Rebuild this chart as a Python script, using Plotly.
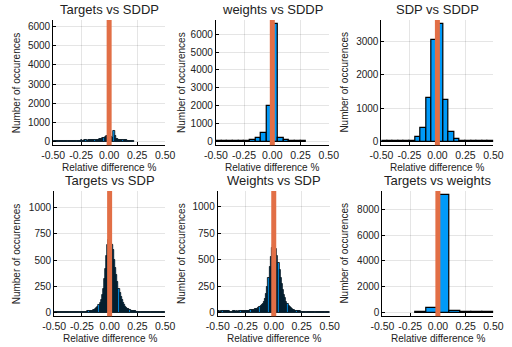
import numpy as np
import plotly.graph_objects as go

BLUE = "#009af9"
ORANGE = "#e26f46"
FONT = "Liberation Sans"
TXT = "#222222"

titles = ["Targets vs SDDP", "weights vs SDDP", "SDP vs SDDP",
          "Targets vs SDP", "Weights vs SDP", "Targets vs weights"]
xlabel = "Relative difference %"
ylabel = "Number of occurences"

# ---- histogram data: first bin edge, bin width, counts ----
p1_start, p1_width = -0.50, 0.01
p1_counts = [55, 60, 52, 58, 62, 50, 57, 61, 54, 59, 63, 52, 56, 60, 58, 53, 62, 57, 55, 60,
             64, 58, 61, 56, 59, 66, 62, 60, 65, 68, 63, 70, 72, 68, 75, 78, 82, 88, 95, 105,
             115, 128, 140, 160, 185, 210, 240, 280, 320, 380,
             6170,
             300, 240, 200, 560, 300, 150, 120, 100, 90, 85, 80, 75, 70, 68, 65, 62, 60, 55, 52, 50, 45]

p2_start, p2_width = -0.50, 0.05
p2_counts = [15, 15, 15, 15, 15, 30, 90, 190, 500, 2000, 6600, 220, 90, 50, 45, 50]

p3_start, p3_width = -0.50, 0.05
p3_counts = [10, 10, 10, 10, 10, 25, 130, 400, 1300, 3050, 3530, 1250, 300, 80, 25, 15, 15, 15, 30, 15]

p4_start, p4_width = -0.50, 0.01
p4_counts = [4, 6, 3, 5, 7, 4, 5, 6, 3, 5, 6, 4, 7, 5, 6, 4, 5, 7, 6, 5, 8, 6, 7, 9, 8,
             8, 9, 9, 10, 11, 12, 13, 15, 17, 19,
             22, 28, 36, 45, 57, 72, 95, 125, 165, 230, 320, 420, 540, 650, 690,
             1127,
             660, 650, 600, 500, 430, 360, 290, 230, 185, 148, 117, 92, 73, 58, 46, 38, 31, 26, 21, 18,
             15, 13, 12, 10,
             8, 7, 6, 7, 5, 6, 4, 5, 6, 5, 4, 6, 5, 4, 5, 3, 4, 5, 4, 3, 4, 5, 3, 4, 3]

p5_start, p5_width = -0.50, 0.01
p5_counts = [12, 14, 11, 13, 15, 18, 20, 17, 14, 12, 13, 11, 10, 12, 14, 13, 11, 12, 10, 13, 14, 12, 15, 14, 16,
             15, 17, 18, 20, 22, 24, 27, 30, 32, 34,
             35, 42, 50, 60, 70, 82, 100, 130, 175, 240, 330, 430, 530, 610, 640,
             1117,
             625, 600, 540, 470, 400, 330, 270, 215, 170, 135, 105, 82, 65, 52, 42, 35, 29, 25, 21, 18,
             16, 14, 12, 11,
             10, 9, 8, 9, 7, 8, 7, 6, 8, 7, 6, 7, 5, 6, 7, 5, 6, 5, 6, 4, 5, 6, 5, 4, 5]

p6_start, p6_width = -0.20, 0.10
p6_counts = [60, 390, 9150, 130, 60, 50, 50]

x_ticks = [-0.5, -0.25, 0.0, 0.25, 0.5]
x_ticklabels = ["-0.50", "-0.25", "0.00", "0.25", "0.50"]
y_ticks = [
    [0, 1000, 2000, 3000, 4000, 5000, 6000],
    [0, 1000, 2000, 3000, 4000, 5000, 6000],
    [0, 1000, 2000, 3000],
    [0, 250, 500, 750, 1000],
    [0, 250, 500, 750, 1000],
    [0, 2000, 4000, 6000, 8000],
]
vline_x = 0.0

panels = [(p1_start, p1_width, p1_counts), (p2_start, p2_width, p2_counts),
          (p3_start, p3_width, p3_counts), (p4_start, p4_width, p4_counts),
          (p5_start, p5_width, p5_counts), (p6_start, p6_width, p6_counts)]

# ---- layout geometry (pixels in a 512x347 page) ----
W, H = 512, 347
px_x = [(43, 160), (213, 331), (386, 503), (44, 160), (215, 332), (387, 503)]
px_y = [(20, 146), (20, 146), (20, 146), (192, 318), (192, 318), (192, 318)]
ylab_x = [5, 177, 347, 5, 177, 347]

fig = go.Figure()
layout = dict(width=W, height=H, margin=dict(l=0, r=0, t=0, b=0),
              paper_bgcolor="white", plot_bgcolor="white", showlegend=False,
              font=dict(family=FONT, size=10, color=TXT))
annotations = []
shapes = []

for i, (start, width, counts) in enumerate(panels):
    n = i + 1
    xs = "" if n == 1 else str(n)
    counts = np.array(counts, dtype=float)
    centers = start + width * (np.arange(len(counts)) + 0.5)
    lw = 0.8 if width < 0.02 else 1.2
    fig.add_trace(go.Bar(x=centers, y=counts, width=width,
                         marker=dict(color=BLUE, line=dict(color="black", width=lw)),
                         xaxis="x" + xs, yaxis="y" + xs, hoverinfo="skip"))
    M = counts.max()
    x0, x1 = px_x[i]
    yt, yb = px_y[i]
    dx = [x0 / W, x1 / W]
    dy = [1 - yb / H, 1 - yt / H]
    layout["xaxis" + xs] = dict(domain=dx, anchor="y" + xs, range=[-0.5, 0.5],
                               tickvals=x_ticks, ticktext=x_ticklabels,
                               showgrid=True, gridcolor="rgba(0,0,0,0.1)", gridwidth=1,
                               zeroline=False, showline=True, linecolor="black", linewidth=1,
                               ticks="inside", ticklen=3, tickcolor="black",
                               tickfont=dict(size=10.5, family=FONT, color=TXT))
    layout["yaxis" + xs] = dict(domain=dy, anchor="x" + xs, range=[-0.03 * M, 1.03 * M],
                               tickvals=y_ticks[i], ticktext=[str(v) for v in y_ticks[i]],
                               showgrid=True, gridcolor="rgba(0,0,0,0.1)", gridwidth=1,
                               zeroline=False, showline=True, linecolor="black", linewidth=1,
                               ticks="inside", ticklen=3, tickcolor="black",
                               tickfont=dict(size=10, family=FONT, color=TXT))
    shapes.append(dict(type="line", xref="x" + xs, yref="y" + xs + " domain",
                       x0=vline_x, x1=vline_x, y0=0, y1=1,
                       line=dict(color=ORANGE, width=5), layer="above"))
    cx = (x0 + x1) / 2 / W
    annotations.append(dict(text=titles[i], x=cx, y=1 - (yt - 10) / H, xref="paper", yref="paper",
                            showarrow=False, xanchor="center", yanchor="middle",
                            font=dict(size=13, family=FONT, color=TXT)))
    annotations.append(dict(text=xlabel, x=cx, y=1 - (yb + 22) / H, xref="paper", yref="paper",
                            showarrow=False, xanchor="center", yanchor="middle",
                            font=dict(size=10, family=FONT, color=TXT)))
    annotations.append(dict(text=ylabel, x=ylab_x[i] / W, y=1 - ((yt + yb) / 2) / H,
                            xref="paper", yref="paper", textangle=-90,
                            showarrow=False, xanchor="center", yanchor="middle",
                            font=dict(size=10, family=FONT, color=TXT)))

layout["annotations"] = annotations
layout["shapes"] = shapes
layout["bargap"] = 0
fig.update_layout(**layout)
fig.write_html("out.html")
